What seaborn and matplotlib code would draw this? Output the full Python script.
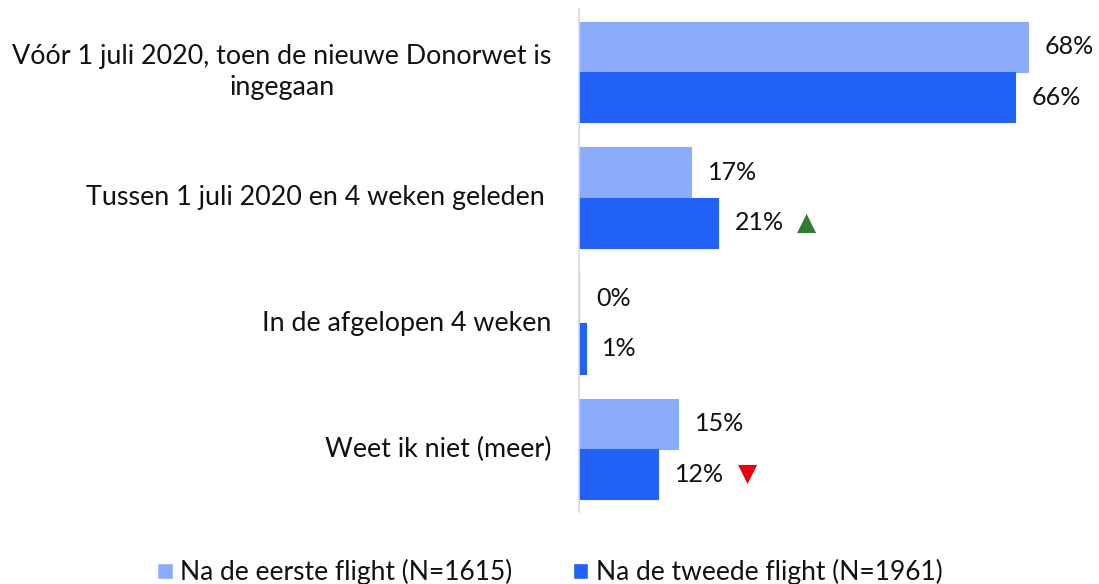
import pandas as pd
import matplotlib.pyplot as plt
import seaborn as sns

# Data
categories = [
    "Vóór 1 juli 2020, toen de nieuwe Donorwet is\ningegaan",
    "Tussen 1 juli 2020 en 4 weken geleden ",
    "In de afgelopen 4 weken",
    "Weet ik niet (meer)",
]
series_names = ["Na de eerste flight (N=1615)", "Na de tweede flight (N=1961)"]
eerste = [68, 17, 0, 15]
tweede = [66, 21, 1, 12]
# significant change vs. first flight: +1 up, -1 down, 0 none
change = [0, 1, 0, -1]

colors = ["#8AACFA", "#2161F5"]

df = pd.DataFrame({
    "categorie": categories * 2,
    "pct": eerste + tweede,
    "meting": [series_names[0]] * 4 + [series_names[1]] * 4,
})

sns.set_theme(style="white")
plt.rcParams["font.family"] = ["Lato", "DejaVu Sans"]

fig = plt.figure(figsize=(10.99, 5.84), dpi=100)
ax = fig.add_axes([0.527, 0.1233, 0.455, 0.8613])

sns.barplot(data=df, y="categorie", x="pct", hue="meting", palette=colors,
            orient="h", width=0.8, saturation=1, ax=ax, legend=True)

# thin outline so the 0% bar still shows as a sliver
for cont in ax.containers:
    for bar in cont:
        bar.set_edgecolor(bar.get_facecolor())
        bar.set_linewidth(0.8)
    ax.bar_label(cont, labels=[f"{v:.0f}%" for v in cont.datavalues],
                 padding=12, fontsize=18, color="#111111")

# significance arrows next to the second-flight labels
for i, (v, c) in enumerate(zip(tweede, change)):
    if c == 0:
        continue
    sym, col = ("▲", "#2E7D32") if c > 0 else ("▼", "#E8000F")
    ax.annotate(sym, xy=(v, i + 0.2), xytext=(64, 0), textcoords="offset points",
                ha="center", va="center", fontsize=18, color=col,
                family="DejaVu Sans")

ax.set_xlim(0, 75.75)
ax.set_ylim(3.5, -0.5)
ax.set_xlabel("")
ax.set_ylabel("")
ax.set_xticks([])

# category labels drawn as text so the two-line label can be centred
ax.set_yticks(range(len(categories)))
ax.set_yticklabels([])
ax.tick_params(axis="y", length=0)
for i, cat in enumerate(categories):
    ax.annotate(cat, xy=(0, i), xycoords=("axes fraction", "data"),
                xytext=(-20, 0), textcoords="offset points",
                ha="right", va="center", multialignment="center",
                linespacing=1.3, fontsize=19.4, color="#111111")

for s in ["top", "right", "bottom"]:
    ax.spines[s].set_visible(False)
ax.spines["left"].set_color("#D9D9D9")
ax.spines["left"].set_linewidth(1.2)

handles, labels = ax.get_legend_handles_labels()
ax.legend(handles, labels, loc="center", bbox_to_anchor=(0.5, 0.02),
          bbox_transform=fig.transFigure, ncol=2, frameon=False,
          fontsize=19, handlelength=0.6, handleheight=0.6,
          handletextpad=0.27, columnspacing=2.3, labelcolor="#111111")

fig.savefig("out.png", dpi=100)
